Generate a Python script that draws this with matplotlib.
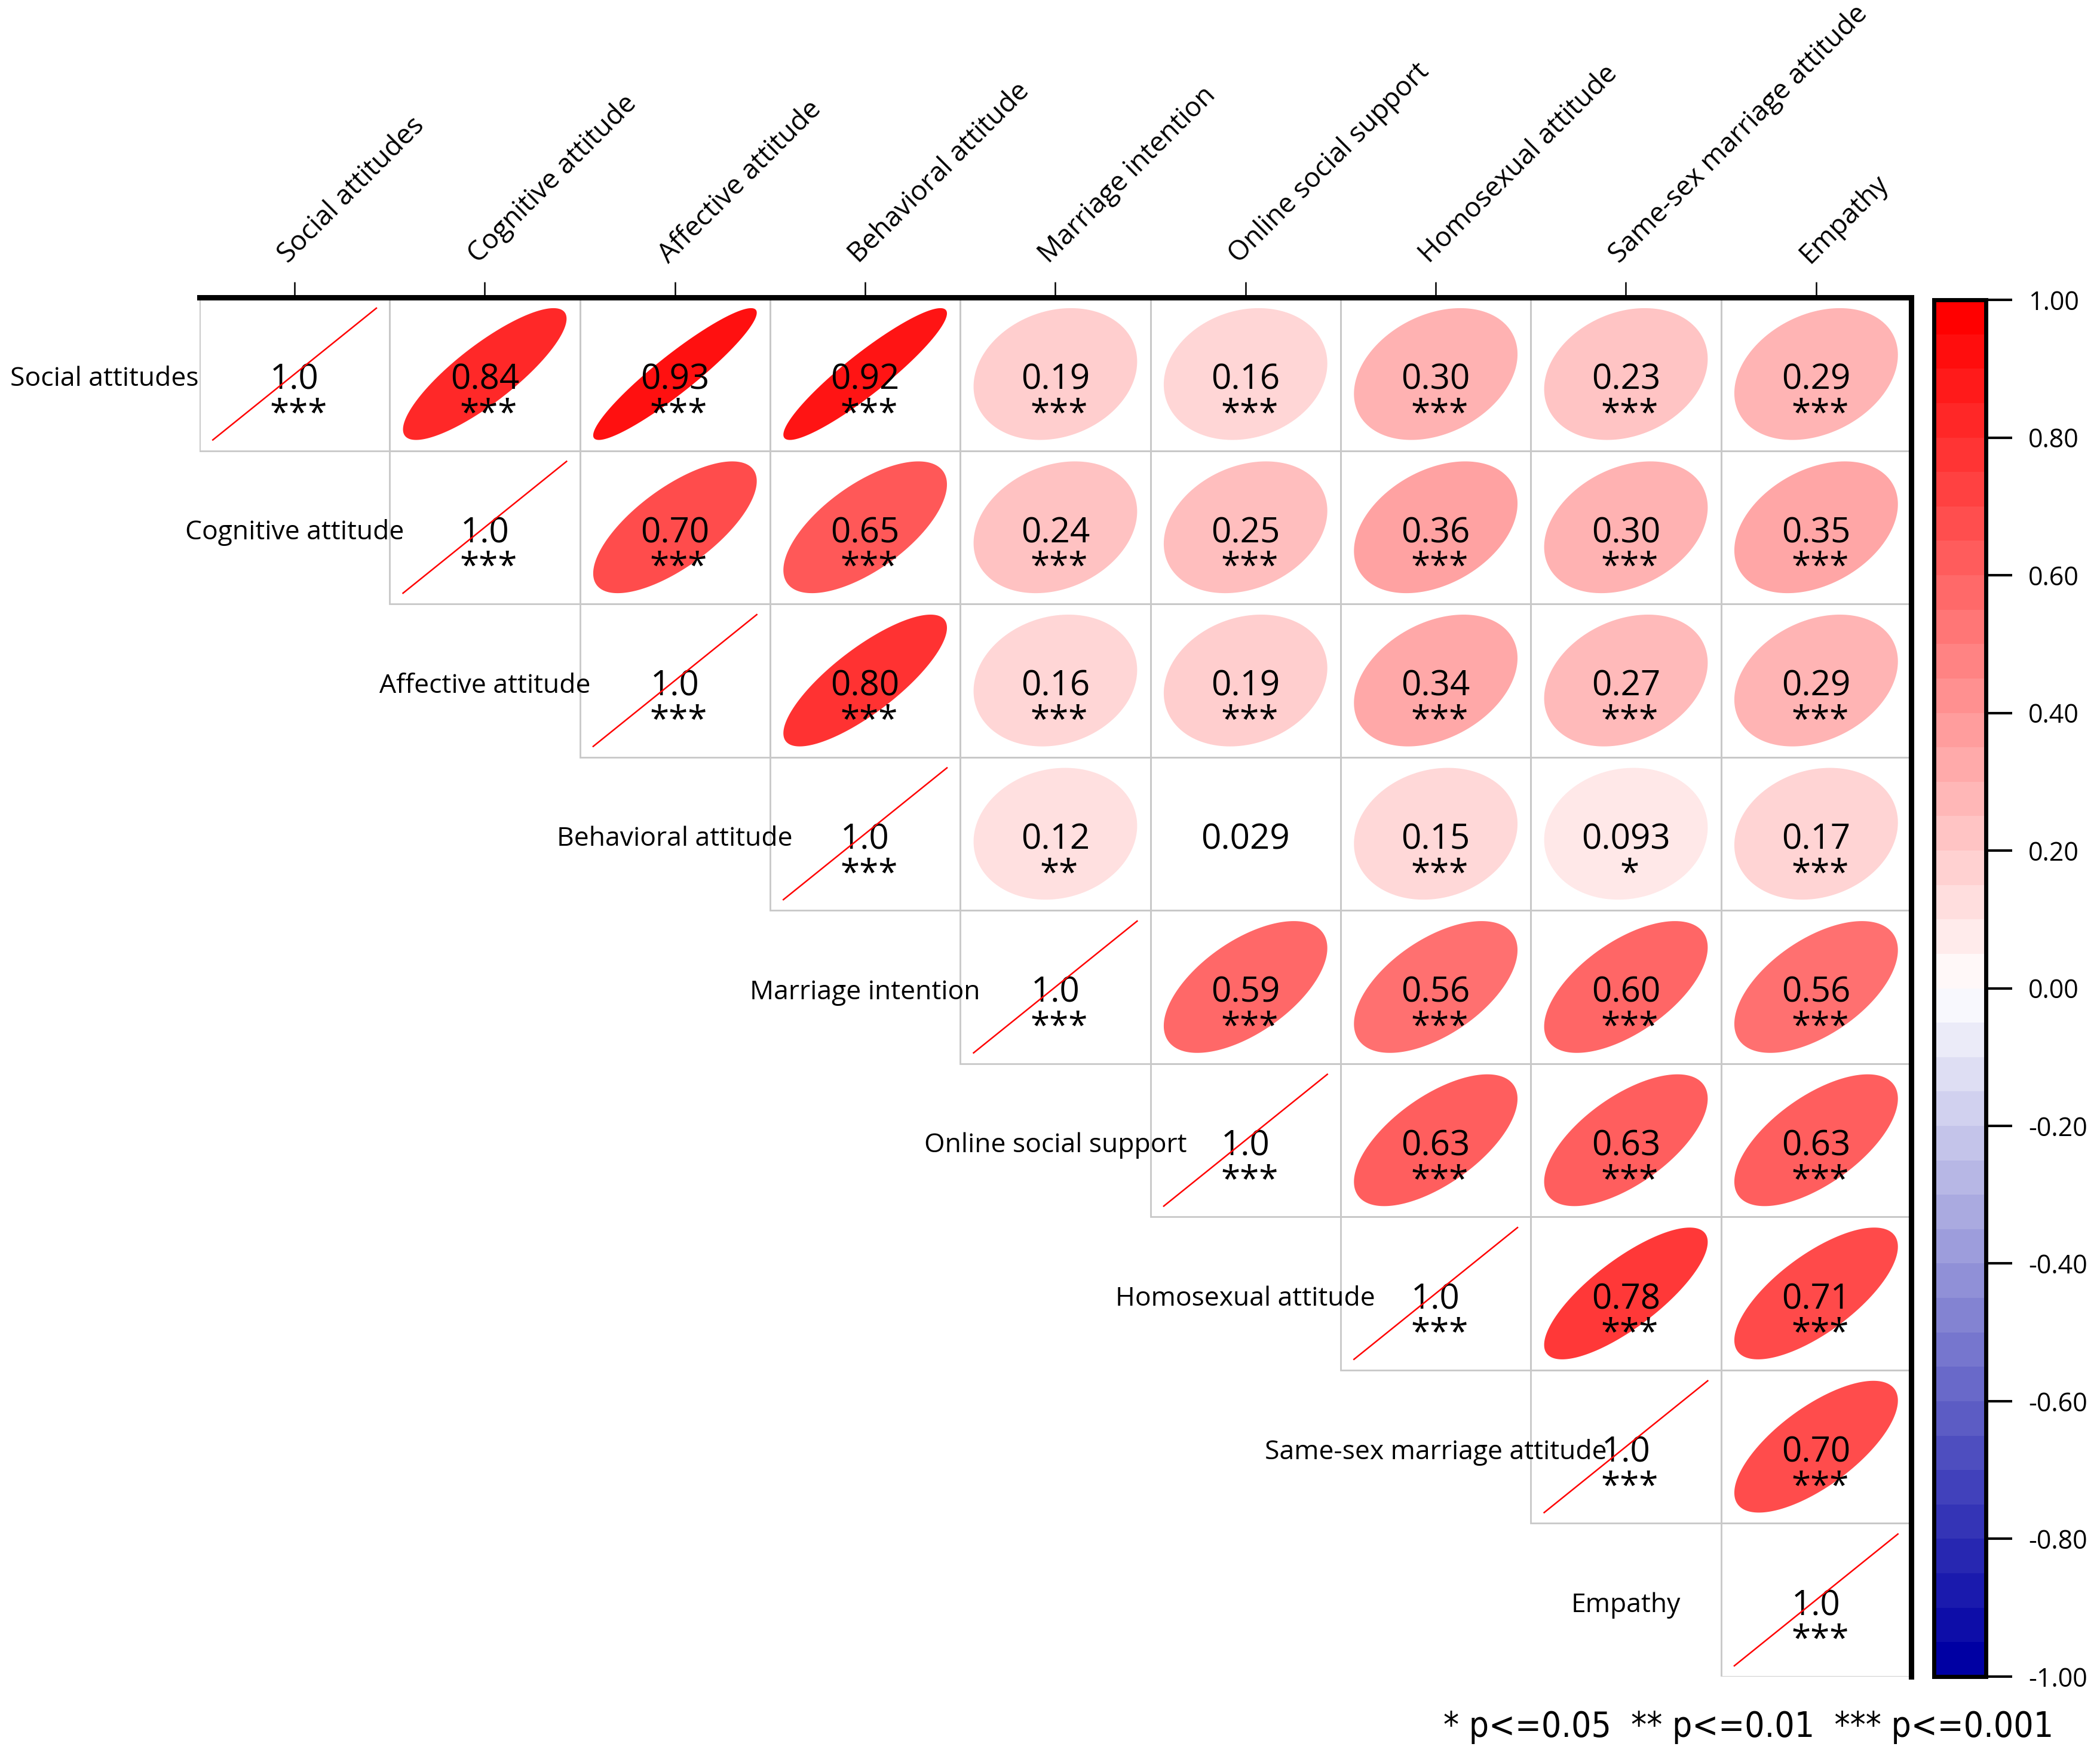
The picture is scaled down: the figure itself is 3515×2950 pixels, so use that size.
import numpy as np
import matplotlib
matplotlib.use("Agg")
import matplotlib.pyplot as plt
import matplotlib.transforms as mtransforms
from matplotlib.colors import LinearSegmentedColormap, Normalize
from matplotlib.patches import Polygon, Rectangle
from matplotlib.cm import ScalarMappable

plt.rcParams['font.family'] = ['Open Sans', 'DejaVu Sans']

variables = ["Social attitudes", "Cognitive attitude", "Affective attitude",
             "Behavioral attitude", "Marriage intention", "Online social support",
             "Homosexual attitude", "Same-sex marriage attitude", "Empathy"]

# upper triangle, one list per row, starting at the diagonal
r_social = [1.0, 0.84, 0.93, 0.92, 0.19, 0.16, 0.30, 0.23, 0.29]
r_cognitive = [1.0, 0.70, 0.65, 0.24, 0.25, 0.36, 0.30, 0.35]
r_affective = [1.0, 0.80, 0.16, 0.19, 0.34, 0.27, 0.29]
r_behavioral = [1.0, 0.12, 0.029, 0.15, 0.093, 0.17]
r_marriage = [1.0, 0.59, 0.56, 0.60, 0.56]
r_online = [1.0, 0.63, 0.63, 0.63]
r_homosexual = [1.0, 0.78, 0.71]
r_samesex = [1.0, 0.70]
r_empathy = [1.0]

# significance marks (only the behavioral row differs from ***)
stars_behavioral = ["***", "**", "", "***", "*", "***"]

cbar_ticks = [-1.0, -0.8, -0.6, -0.4, -0.2, 0.0, 0.2, 0.4, 0.6, 0.8, 1.0]
note = "* p<=0.05  ** p<=0.01  *** p<=0.001"

rows = [r_social, r_cognitive, r_affective, r_behavioral, r_marriage,
        r_online, r_homosexual, r_samesex, r_empathy]
stars = [["***"] * len(r) for r in rows]
stars[3] = stars_behavioral

n = len(variables)
cmap = LinearSegmentedColormap.from_list("bwr_corr", [(0, 0, 0.64), (1, 1, 1), (1, 0, 0)])
norm = Normalize(-1, 1)

fig = plt.figure(figsize=(35.15, 29.5), dpi=100)
ax = fig.add_axes([0.0950, 0.0485, 0.8151, 0.7827])
ax.set_xlim(0, n)
ax.set_ylim(n, 0)

a = 0.43
t = np.linspace(0, 2 * np.pi, 300)
for i, row in enumerate(rows):
    for k, r in enumerate(row):
        j = i + k
        cx, cy = j + 0.5, i + 0.5
        ax.add_patch(Rectangle((j, i), 1, 1, fill=False, edgecolor='#c8c8c8', lw=2, zorder=1))
        if j == i:
            ax.plot([cx - a, cx + a], [cy + a, cy - a], color='red', lw=1.8, zorder=4)
        elif stars[i][k]:
            d = np.arccos(r)
            pts = np.column_stack([cx + a * np.cos(t + d / 2), cy - a * np.cos(t - d / 2)])
            ax.add_patch(Polygon(pts, closed=True, facecolor=cmap(norm(r)),
                                 edgecolor='none', zorder=2))
        ax.text(cx, cy + 0.04, f"{r:#.2g}", ha='center', va='center', fontsize=42, zorder=3)
        if stars[i][k]:
            ax.text(cx + 0.02, cy + 0.27, stars[i][k], ha='center', va='center',
                    fontsize=42, zorder=3)
    # row label sits in the empty cell left of the diagonal
    ax.text(i - 0.5, i + 0.535, variables[i], ha='center', va='center', fontsize=32,
            clip_on=False)

ax.xaxis.tick_top()
ax.set_xticks(np.arange(n) + 0.5)
ax.set_xticklabels([])
ax.set_yticks([])
ax.tick_params(axis='x', length=19, width=1.8, direction='out')
for s in ['left', 'bottom']:
    ax.spines[s].set_visible(False)
for s in ['top', 'right']:
    ax.spines[s].set_linewidth(6.5)
    ax.spines[s].set_zorder(5)

trans = mtransforms.blended_transform_factory(ax.transData, fig.transFigure)
for j, name in enumerate(variables):
    ax.text(j + 0.5 - 0.035, 0.850, name, rotation=45, rotation_mode='anchor',
            ha='left', va='baseline', fontsize=33, transform=trans)

cax = fig.add_axes([0.9209, 0.0485, 0.0248, 0.7813])
sm = ScalarMappable(norm=norm, cmap=cmap.resampled(40))
cb = fig.colorbar(sm, cax=cax, ticks=cbar_ticks, format='%.2f')
cb.outline.set_linewidth(5)
cax.tick_params(length=32, width=3, labelsize=31, pad=19)

fig.text(0.9778, 0.0197, note, ha='right', va='center', fontsize=42,
         family='DejaVu Sans', fontstretch='condensed')

fig.savefig("out.png", dpi=100)
